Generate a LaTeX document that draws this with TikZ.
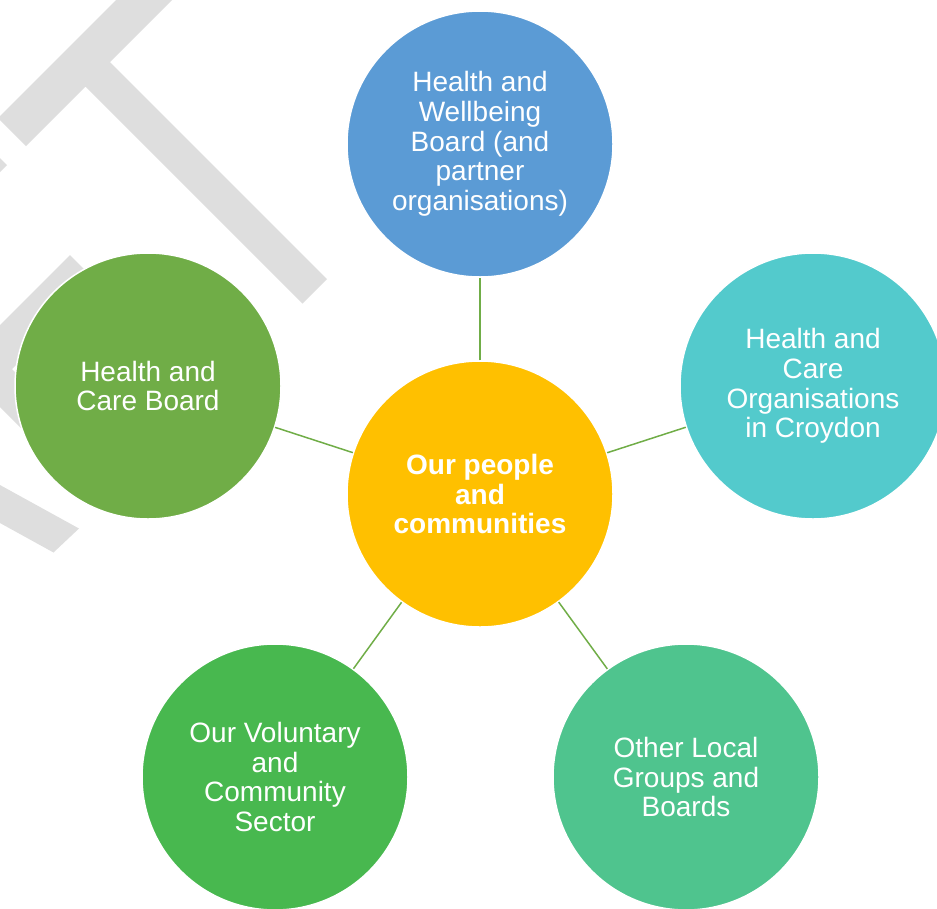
\documentclass[tikz,border=0pt]{standalone}
\usepackage{fontspec}
\setmainfont{Liberation Sans}
\definecolor{wmgray}{HTML}{DEDEDE}
\definecolor{cgold}{HTML}{FFC000}
\definecolor{cblue}{HTML}{5B9BD5}
\definecolor{cteal}{HTML}{53CACC}
\definecolor{cleaf}{HTML}{70AD47}
\definecolor{cgrass}{HTML}{48B84F}
\definecolor{cmint}{HTML}{4FC48E}
\definecolor{cline}{HTML}{70AD47}
\begin{document}
\begin{tikzpicture}[x=1pt,y=-1pt,
  bubble/.style={circle,minimum size=266pt,inner sep=0pt,draw=white,line width=1.5pt,
    text=white,align=center,font=\fontsize{28}{29.7}\selectfont},
  link/.style={draw=cline,line width=1.5pt},
  wm/.style={fill=wmgray,draw=none}]
\useasboundingbox (0,0) rectangle (937,908);
\clip (0,0) rectangle (937,908);
% watermark letters (T, F, A)
\fill[wm] (-2,118) -- (26,146) -- (85.5,86.5) -- (302.5,303.5) -- (327,279) -- (110,62) -- (232,-60) -- (176,-60) -- cycle;
\fill[wm] (-21,137) -- (7,165) -- (-117.5,289.5) -- (-145.5,261.5) -- cycle;
\fill[wm] (70,255) -- (98,283) -- (-40,421) -- (-40,365) -- cycle;
\fill[wm] (-120.5,236.5) -- (124.5,481.5) -- (99.5,506.5) -- (-145.5,261.5) -- cycle;
\fill[wm] (-20,474) -- (79,528.5) -- (53.5,552.5) -- (-20,512) -- cycle;
% circles
\node[bubble,fill=cblue]  (wellbeing) at (480,144) {Health and\\Wellbeing\\Board (and\\partner\\organisations)};
\node[bubble,fill=cteal]  (orgs)      at (813,386) {Health and\\Care\\Organisations\\in Croydon};
\node[bubble,fill=cleaf]  (careboard) at (148,386) {Health and\\Care Board};
\node[bubble,fill=cgrass] (voluntary) at (275,777) {Our Voluntary\\and\\Community\\Sector};
\node[bubble,fill=cmint]  (local)     at (686,777) {Other Local\\Groups and\\Boards};
\node[bubble,fill=cgold,font=\fontsize{28}{29.7}\selectfont\bfseries] (people) at (480,494) {Our people\\and\\communities};
% connectors
\draw[link] (people) -- (wellbeing);
\draw[link] (people) -- (orgs);
\draw[link] (people) -- (careboard);
\draw[link] (people) -- (voluntary);
\draw[link] (people) -- (local);
\end{tikzpicture}
\end{document}
